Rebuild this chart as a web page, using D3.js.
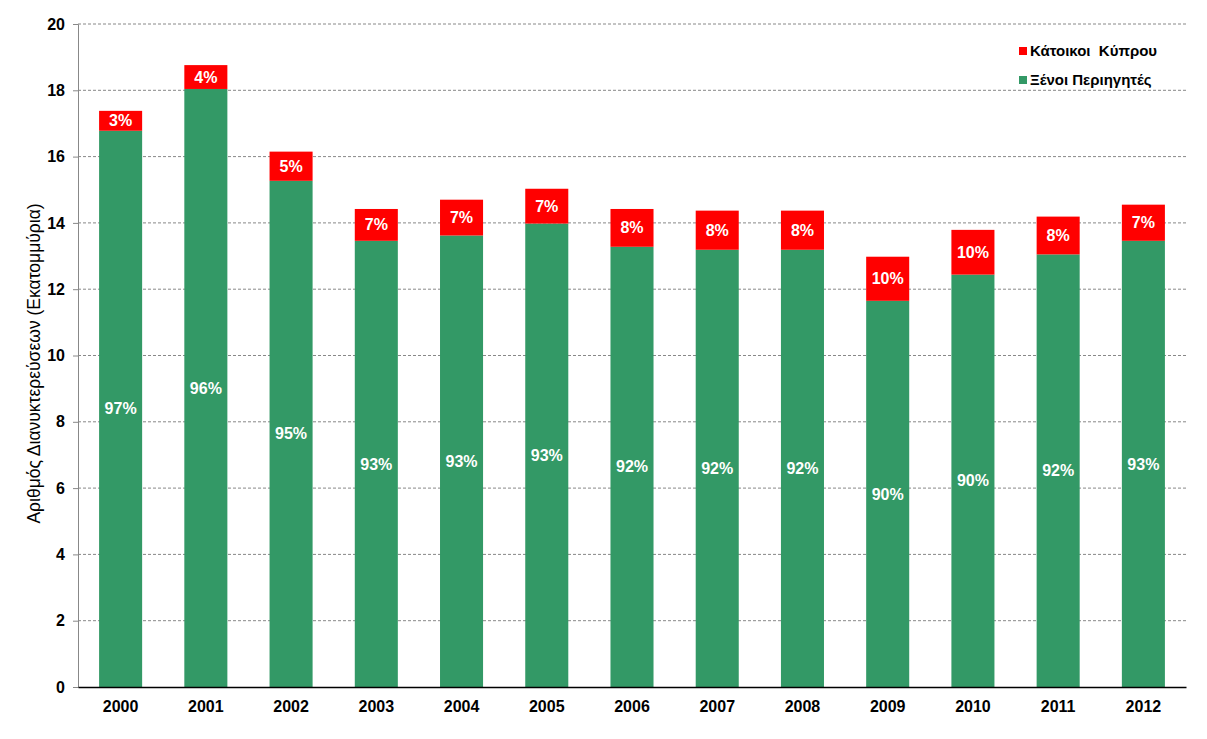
<!DOCTYPE html>
<html><head><meta charset="utf-8">
<script src="https://cdn.jsdelivr.net/npm/d3@7"></script>
<style>body{margin:0;background:#fff}svg{display:block}text{font-family:"Liberation Sans",Arial,sans-serif}</style>
</head><body><svg id="c" width="1207" height="739"></svg>
<script>
const years = ["2000","2001","2002","2003","2004","2005","2006","2007","2008","2009","2010","2011","2012"];
const foreign = [16.78,18.04,15.27,13.46,13.62,13.98,13.28,13.19,13.19,11.65,12.44,13.05,13.46];
const residents = [0.60,0.72,0.88,0.96,1.08,1.05,1.14,1.18,1.18,1.33,1.35,1.14,1.09];
const foreignPct = ["97%","96%","95%","93%","93%","93%","92%","92%","92%","90%","90%","92%","93%"];
const residentPct = ["3%","4%","5%","7%","7%","7%","8%","8%","8%","10%","10%","8%","7%"];
const yTicks = [0,2,4,6,8,10,12,14,16,18,20];
const seriesNames = ["Κάτοικοι  Κύπρου","Ξένοι Περιηγητές"];
const colors = ["#FF0000","#339966"];
const yTitle = "Αριθμός Διανυκτερεύσεων (Εκατομμύρια)";

const svg = d3.select("#c");
const L=78, R=1186, T=24, B=687;
const x = d3.scaleBand().domain(years).range([L,R]).paddingInner(0.495).paddingOuter(0.2475);
const y = d3.scaleLinear().domain([0,20]).range([B,T]);

// gridlines
svg.append("g").selectAll("line").data(yTicks.filter(d=>d>0)).join("line")
  .attr("x1",L).attr("x2",R).attr("y1",d=>y(d)).attr("y2",d=>y(d))
  .attr("stroke","#888").attr("stroke-width",1).attr("stroke-dasharray","3,2");

const data = years.map((yr,i)=>({yr, f:foreign[i], r:residents[i], fp:foreignPct[i], rp:residentPct[i]}));

const g = svg.append("g");
g.selectAll("rect.f").data(data).join("rect").attr("class","f")
  .attr("x",d=>x(d.yr)).attr("width",x.bandwidth())
  .attr("y",d=>y(d.f)).attr("height",d=>y(0)-y(d.f)).attr("fill",colors[1]);
g.selectAll("rect.r").data(data).join("rect").attr("class","r")
  .attr("x",d=>x(d.yr)).attr("width",x.bandwidth())
  .attr("y",d=>y(d.f+d.r)).attr("height",d=>y(d.f)-y(d.f+d.r)).attr("fill",colors[0]);

g.selectAll("text.fl").data(data).join("text").attr("class","fl")
  .attr("x",d=>x(d.yr)+x.bandwidth()/2).attr("y",d=>(y(d.f)+y(0))/2)
  .attr("dy","0.35em").attr("text-anchor","middle").attr("fill","#fff")
  .attr("font-weight","bold").attr("font-size","16px").text(d=>d.fp);
g.selectAll("text.rl").data(data).join("text").attr("class","rl")
  .attr("x",d=>x(d.yr)+x.bandwidth()/2).attr("y",d=>(y(d.f)+y(d.f+d.r))/2)
  .attr("dy","0.35em").attr("text-anchor","middle").attr("fill","#fff")
  .attr("font-weight","bold").attr("font-size","16px").text(d=>d.rp);

// axes
const ya = svg.append("g").attr("transform",`translate(${L},0)`)
  .call(d3.axisLeft(y).tickValues(yTicks).tickSize(5).tickPadding(8));
ya.select(".domain").attr("stroke","#888");
ya.selectAll(".tick line").attr("stroke","#888");
ya.selectAll("text").attr("font-size","16px").attr("font-weight","bold").attr("fill","#000")
  .style("font-family",'"Liberation Sans",Arial,sans-serif');

const xa = svg.append("g").attr("transform",`translate(0,${B})`)
  .call(d3.axisBottom(x).tickSize(0).tickPadding(14));
xa.select(".domain").attr("stroke","#000").attr("stroke-width",1.5);
xa.selectAll("text").attr("font-size","16px").attr("font-weight","bold").attr("fill","#000")
  .style("font-family",'"Liberation Sans",Arial,sans-serif');

svg.append("text").attr("transform",`translate(40,${(T+B)/2 + 8}) rotate(-90)`)
  .attr("text-anchor","middle").attr("font-size","17.5px").attr("fill","#000").text(yTitle);

// legend
const lg = svg.append("g").attr("transform","translate(1019,0)");
seriesNames.forEach((n,i)=>{
  const cy = 51 + i*29;
  lg.append("rect").attr("x",0).attr("y",cy-4).attr("width",8).attr("height",8).attr("fill",colors[i]);
  lg.append("text").attr("x",11).attr("y",cy).attr("dy","0.35em").attr("font-size","15px")
    .style("white-space","pre")
    .attr("font-weight","bold").attr("fill","#000").text(n);
});
</script></body></html>
